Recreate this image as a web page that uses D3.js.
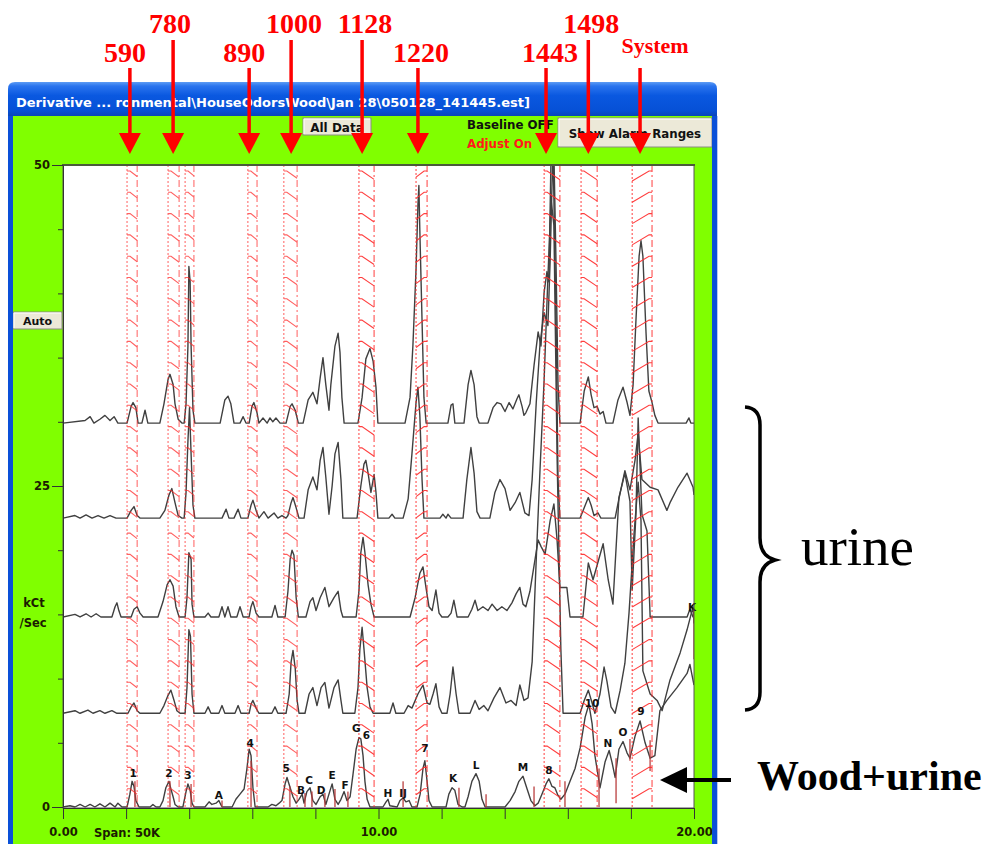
<!DOCTYPE html>
<html><head><meta charset="utf-8">
<script src="https://cdn.jsdelivr.net/npm/d3@7"></script>
<style>body{margin:0;background:#fff}svg{display:block}</style>
</head><body><svg id="c" width="989" height="844"></svg>
<script>
// ---------------- DATA ----------------
const traceOffsets = [29.9, 22.5, 14.8, 7.3, 0];

const trace1 = [[0,0],[0.70,0.2],[0.86,0.5],[0.98,0],[1.17,0.3],[1.33,0.6],[1.49,0.2],[1.62,0.5],[1.74,0],
[2.03,0],[2.16,1.3],[2.22,1.6],[2.31,1.2],[2.38,0],[2.50,0],[2.60,1.0],[2.69,0],
[3.07,0],[3.20,1.5],[3.33,3.4],[3.39,3.8],[3.49,3.0],[3.55,1.5],[3.65,0.3],[3.77,0],
[3.84,0],[3.90,1.5],[3.96,6],[3.99,12.2],[4.03,11],[4.06,6],[4.12,1],[4.18,0],
[4.98,0],[5.13,1.8],[5.23,2.1],[5.32,1.5],[5.42,0],[5.61,0],[5.71,0.5],[5.80,0],
[5.90,0],[5.99,1.3],[6.05,1.6],[6.15,0.8],[6.21,0],[6.34,0.4],[6.47,0],[6.56,0.4],[6.65,0.1],[6.75,0.4],[6.88,0],
[7.07,0],[7.20,1.3],[7.26,1.5],[7.36,1.0],[7.46,0],
[7.61,0],[7.77,1.8],[7.92,2.4],[8.05,1.5],[8.15,3.5],[8.24,5.1],[8.33,3.0],[8.43,1.0],[8.49,3.0],[8.62,6.0],[8.72,7.0],[8.78,5.5],[8.84,2],[8.91,0],
[9.35,0],[9.48,2.0],[9.60,5.0],[9.73,5.8],[9.83,4.8],[9.92,2.8],[9.98,0],
[10.84,0],[11.00,2.0],[11.09,6],[11.19,12],[11.25,17],[11.28,18.5],[11.31,15],[11.38,8],[11.44,2],[11.51,0],
[12.20,0],[12.30,1.4],[12.36,1.5],[12.42,0],[12.71,0],[12.84,3.0],[12.93,4.1],[13.03,3.0],[13.12,0.5],[13.19,0],
[13.47,0],[13.63,1.2],[13.76,1.6],[13.88,1.5],[14.01,0.9],[14.14,1.6],[14.26,1.1],[14.39,1.9],[14.45,2.2],[14.55,1.3],[14.61,0.6],[14.67,0.8],
[14.80,1.5],[14.93,4.5],[15.06,7.1],[15.15,6.0],[15.25,10.2],[15.34,11.8],[15.40,11.0],[15.47,21],[15.56,21],[15.63,12],[15.69,3],[15.75,0],
[16.39,0],[16.52,2.5],[16.65,3.6],[16.74,2.2],[16.83,1.2],[16.93,1.3],[17.02,0.7],[17.12,0.9],[17.21,0],
[17.43,0],[17.59,1.8],[17.75,2.8],[17.88,1.6],[17.97,0.6],
[18.07,3],[18.16,8],[18.26,13],[18.32,14.2],[18.38,13],[18.48,7],[18.57,2.5],[18.67,1.6],[18.76,0.6],[18.86,0],
[19.75,0],[19.84,0.4],[19.90,0],[20,0]];

const trace2 = [[0,0],[0.38,0.2],[0.54,0],[0.73,0.25],[0.92,0],[1.11,0.2],[1.30,0],[1.49,0.2],[1.68,0],
[2.03,0],[2.16,0.6],[2.25,0.9],[2.35,0.2],[2.44,0],
[3.07,0],[3.23,0.6],[3.36,1.8],[3.45,2.3],[3.55,1.2],[3.65,0.2],[3.77,0],
[3.84,0],[3.90,2],[3.96,6],[4.01,8.6],[4.06,5],[4.12,1],[4.18,0],
[5.04,0],[5.17,0.7],[5.26,0],[5.42,0],[5.55,0.7],[5.64,0],
[5.86,0],[5.96,1.0],[6.02,1.4],[6.12,0.6],[6.21,0],[6.37,0.5],[6.50,0],[6.69,0.4],[6.81,0],[6.94,0.2],[7.07,0],
[7.13,0.2],[7.23,1.2],[7.29,1.6],[7.39,0.8],[7.48,0],
[7.64,0],[7.77,2.2],[7.92,3.2],[8.05,2.2],[8.15,4.5],[8.24,5.5],[8.33,3.2],[8.43,0.3],[8.53,2.5],[8.62,5.0],[8.72,5.9],[8.81,3],[8.87,0],
[9.32,0],[9.44,2.5],[9.54,4.2],[9.60,4.5],[9.67,3.5],[9.76,2.0],[9.86,3.4],[9.92,2.0],[9.98,0],
[10.33,0],[10.43,0.3],[10.52,0],
[10.78,0],[10.94,1.5],[11.06,5],[11.19,9],[11.25,10.2],[11.31,8],[11.38,3],[11.44,0],
[11.95,0],[12.04,0.3],[12.14,0],[12.20,0.3],[12.30,0],
[12.68,0],[12.80,3.0],[12.93,5.5],[13.03,3.5],[13.12,0.5],[13.22,0],
[13.53,0],[13.69,2.0],[13.85,3.0],[14.01,2.3],[14.17,0.6],[14.33,1.2],[14.48,2.0],[14.64,0.4],[14.77,0.2],
[14.87,3],[15.00,9],[15.12,13.6],[15.25,16],[15.37,15],[15.44,20],[15.53,29],[15.63,15],[15.69,3],[15.75,0],
[16.39,0],[16.52,0.8],[16.65,1.6],[16.74,1.0],[16.83,0.2],[16.96,0.4],[17.05,0],
[17.50,0],[17.62,1.5],[17.81,3.7],[17.97,2.2],[18.13,4.5],[18.23,6.6],[18.35,3.0],[18.61,2.4],[18.86,2.2],[19.14,0.6],[19.24,1.2],[19.49,2.4],[19.78,3.5],[19.97,2.4],[20,1.8]];

const trace3 = [[0,0],[0.38,0.2],[0.54,0],[0.73,0.25],[0.89,0],[1.05,0.25],[1.20,0],
[1.55,0],[1.65,0.8],[1.71,1.1],[1.77,0.5],[1.84,0],[2.16,0],[2.25,0.6],[2.35,0.8],[2.44,0.3],[2.54,0],
[3.01,0],[3.17,1.2],[3.30,2.5],[3.39,2.9],[3.49,2.4],[3.58,0.8],[3.68,0],
[3.87,0],[3.93,1.5],[3.99,5.0],[4.06,4.5],[4.09,1],[4.15,0],
[4.50,0],[4.60,0.3],[4.69,0],[4.94,0],[5.04,0.8],[5.13,0],[5.23,0.8],[5.32,0],[5.51,0],[5.61,0.8],[5.71,0],
[5.90,0],[5.96,0.8],[6.02,1.2],[6.12,0.3],[6.21,0],[6.62,0],[6.72,0.9],[6.81,0],
[7.04,0],[7.13,2.0],[7.20,4.5],[7.26,5.2],[7.32,4.8],[7.39,1.5],[7.46,0],
[7.70,0],[7.83,1.2],[7.92,1.5],[8.02,0.5],[8.15,1.5],[8.30,2.3],[8.43,0.8],[8.59,1.5],[8.72,2.0],[8.81,0.5],[8.87,0],
[9.29,0],[9.38,2],[9.44,5],[9.51,6.2],[9.57,5],[9.67,2.5],[9.76,1],[9.86,0],
[11.00,0],[11.16,1.5],[11.31,3.4],[11.41,3.9],[11.51,2.2],[11.60,0.8],[11.70,0.5],[11.82,2.1],[11.92,0.3],[12.01,0],
[12.20,0],[12.30,0.3],[12.39,1.3],[12.49,0],
[12.84,0],[12.96,0.6],[13.06,1.3],[13.15,0.5],[13.31,0.8],[13.47,0.5],[13.60,1.0],[13.76,0.5],[13.91,0.8],[14.07,0.5],[14.23,1.1],[14.36,1.8],[14.48,2.3],[14.58,1.0],[14.67,0.8],
[14.80,2.0],[14.93,4.0],[15.06,6.0],[15.15,5.5],[15.28,4.9],[15.44,7.5],[15.56,8.8],[15.66,6],[15.75,2.3],[15.97,2.3],[16.07,0],
[16.48,0],[16.65,4.2],[16.80,2.9],[17.12,5.7],[17.28,2.9],[17.43,1.0],[17.62,9.3],[17.81,11.2],[17.97,9],[18.04,2.1],[18.16,8],[18.23,15.5],[18.35,8],[18.51,6.7],[18.61,0],
[19.78,0],[19.87,0.6],[19.97,0],[20,0]];

const trace4 = [[0,0],[0.38,0.2],[0.54,0],[0.79,0.25],[0.95,0],[1.17,0.2],[1.33,0],[1.55,0.2],[1.71,0],
[2.06,0],[2.16,0.5],[2.25,0.8],[2.35,0.2],[2.44,0],
[3.07,0],[3.20,0.6],[3.33,1.4],[3.42,1.8],[3.52,1.0],[3.61,0.2],[3.71,0],
[3.87,0],[3.93,2],[3.99,6.5],[4.04,6.0],[4.09,1.5],[4.15,0],
[4.50,0],[4.60,0.5],[4.69,0],[4.94,0],[5.04,0.6],[5.13,0],[5.45,0],[5.55,0.6],[5.64,0],
[5.90,0],[5.96,0.7],[6.02,1.0],[6.12,0.4],[6.21,0],[6.62,0],[6.72,0.5],[6.81,0],
[7.07,0],[7.17,1.5],[7.23,4.0],[7.29,4.9],[7.36,3.5],[7.42,1.0],[7.48,0],
[7.67,0],[7.80,1.5],[7.92,2.0],[8.05,0.6],[8.18,2.0],[8.30,2.4],[8.43,0.4],[8.59,2.0],[8.72,2.6],[8.81,1.0],[8.87,0],
[9.25,0],[9.35,2],[9.41,5],[9.48,6.7],[9.54,5],[9.64,2],[9.73,0.5],[9.83,0],
[10.36,0],[10.46,0.8],[10.55,0],[10.81,0],[10.94,0.6],[11.06,0.4],[11.25,1.5],[11.41,2.2],[11.54,0.8],[11.63,0.7],[11.73,1.5],[11.82,2.3],[11.92,0.5],[12.01,0],
[12.17,0],[12.27,1.5],[12.36,3.6],[12.46,1.5],[12.55,0],
[12.90,0],[13.06,1.0],[13.19,0.3],[13.34,0.6],[13.47,0.2],[13.66,1.2],[13.85,2.0],[14.04,0.8],[14.20,1.0],[14.36,0.6],[14.48,2.2],[14.61,1.0],[14.74,1.2],
[14.87,4],[15.00,12],[15.12,19],[15.25,26],[15.37,34],[15.47,40],[15.56,38],[15.66,20],[15.78,5],[15.85,0],
[16.39,0],[16.52,1.0],[16.65,1.8],[16.77,0.8],[16.86,0],[17.02,1.5],[17.15,3.6],[17.24,2.5],[17.37,0.5],[17.50,0],
[17.66,1.8],[17.81,3.9],[17.94,7.8],[18.10,14],[18.23,18],[18.32,15],[18.38,3.3],[18.61,1.5],[18.83,1.0],[18.99,0.2],[19.24,2.6],[19.56,4.7],[19.78,6.5],[19.97,8.3],[20,7.0]];

const trace5 = [[0,0],[0.22,0.1],[0.38,0],[0.54,0.2],[0.70,0],[0.86,0.2],[1.01,0],[1.17,0.25],[1.33,0],[1.49,0.3],[1.65,0],[1.74,0.3],[1.87,0],
[2.03,0],[2.12,1.0],[2.19,2.0],[2.25,1.6],[2.31,0.5],[2.41,0],[2.76,0],[2.85,0.2],[2.95,0],
[3.07,0],[3.17,0.5],[3.26,1.5],[3.36,2.0],[3.42,1.4],[3.49,0.8],[3.55,0.2],[3.65,0],
[3.80,0],[3.90,1.2],[3.96,1.8],[4.03,1.3],[4.09,0.3],[4.15,0],
[4.50,0],[4.63,0.4],[4.72,0.2],[4.85,0.3],[4.94,0.5],[5.04,0],
[5.36,0],[5.48,0.6],[5.61,1.0],[5.74,1.4],[5.83,3.0],[5.90,4.5],[5.96,4.0],[6.02,1.5],[6.09,0],
[6.50,0],[6.62,0.2],[6.75,0.1],[6.85,0.3],[6.94,0.5],[7.04,1.8],[7.10,2.3],[7.20,1.5],[7.29,0.8],[7.39,0.3],
[7.48,0.6],[7.58,1.0],[7.64,0.3],[7.73,1.2],[7.83,1.5],[7.92,0.5],[8.02,0.2],[8.15,0.8],[8.24,1.0],[8.33,0.2],[8.43,1.0],[8.53,1.8],[8.62,0.6],[8.72,0.2],[8.81,0.6],[8.91,1.2],[9.00,0.5],
[9.10,0.8],[9.19,2.5],[9.29,4.5],[9.38,5.4],[9.44,5.3],[9.51,4],[9.57,2],[9.64,0.6],[9.73,0],
[10.14,0],[10.24,0.4],[10.30,0.6],[10.36,0.1],[10.59,0],[10.68,0.5],[10.78,0.7],[10.87,0.4],[10.97,0.5],[11.06,0],
[11.22,0],[11.32,1.0],[11.41,3.0],[11.47,3.6],[11.54,2.0],[11.60,0.5],[11.70,0],
[12.14,0],[12.23,1.0],[12.33,1.5],[12.42,1.3],[12.52,0.2],[12.65,0],
[12.74,0],[12.84,0.8],[12.96,2.0],[13.09,2.6],[13.19,2.0],[13.28,0.6],[13.38,0],
[14.01,0],[14.17,0.5],[14.33,1.2],[14.45,2.0],[14.58,2.4],[14.71,1.4],[14.83,0.5],[14.96,0.1],
[15.06,0.3],[15.18,1.0],[15.31,1.8],[15.40,2.2],[15.50,1.6],[15.59,1.5],[15.69,0.9],[15.78,0.6],
[15.91,1.0],[16.07,2.0],[16.23,3.0],[16.39,4.6],[16.55,7.0],[16.67,8.0],[16.77,6.5],[16.86,4.0],[17.02,1.5],
[17.18,3.5],[17.31,4.4],[17.40,3.5],[17.50,2.3],[17.62,4.5],[17.75,5.1],[17.88,4.2],[17.97,3.8],[18.13,5.5],[18.29,6.7],[18.45,5.0],[18.61,3.8],[18.76,4.0],[18.92,7.5],[19.14,8.3],[19.46,9.3],[19.78,10.4],[19.87,11.1],[20,9.5]];

const alarmBands = [[2.03,2.35],[3.33,3.68],[3.87,4.15],[5.86,6.15],[7.00,7.42],[9.38,9.86],[11.19,11.54],[15.25,15.75],[16.42,16.93],[18.04,18.67]];

const calloutNames = ["590","780","890","1000","1128","1220","1443","1498","System"];
const calloutTimes = [2.12, 3.49, 5.90, 7.23, 9.48, 11.25, 15.31, 16.65, 18.29];

const peakNames  = ["1","2","3","A","4","5","B","C","D","E","F","G","6","H","IJ","7","K","L","M","8","10","N","O","9","K"];
const peakTimes  = [2.22,3.36,3.96,4.94,5.93,7.07,7.54,7.80,8.18,8.53,8.94,9.30,9.62,10.30,10.78,11.47,12.36,13.09,14.58,15.40,16.77,17.27,17.75,18.32,19.94];
const peakValues = [2.65,2.65,2.5,0.93,5.0,3.0,1.3,2.1,1.3,2.5,1.7,6.15,5.6,1.1,1.1,4.6,2.25,3.3,3.1,2.9,8.1,5.0,5.85,7.5,15.6];

const markerTimes = [2.28,3.39,4.06,5.04,5.96,7.19,7.67,7.89,8.30,8.62,9.03,10.78,12.55,13.41,14.93,15.91,16.99,17.53,17.97,18.61,20.0];
const markerLows  = [0,0,0,0,0,0,0,0,0,0,0,0,0,0,0,0,0,0.3,3.6,2.8,11.5];
const markerHighs = [2.0,2.0,1.8,0.5,3.6,1.6,1.1,1.2,1.1,1.4,1.2,2.0,1.5,1.0,1.6,2.0,3.0,3.8,5.3,5.2,15.5];

const xTickValues = [0,2,4,6,8,10,12,14,16,18,20];
const xTickLabels = ["0.00","","","","","10.00","","","","","20.00"];
const yTickValues = [0,5,10,15,20,25,30,35,40,45,50];
const yTickLabels = ["0","","","","","25","","","","","50"];

// ---------------- STYLE ----------------
const bandSlope = [-1,-1,-1,-1,-1,-1,1,-1,-1,1];
const calloutDx = [-5,-3,-5,3,3,3,4,3,15];
const calloutRow = [1,0,1,0,0,1,1,0,2];
const GREEN = "#80ff00";
const FONT = "'DejaVu Sans', Verdana, sans-serif";
const SERIF = "'Liberation Serif', 'Times New Roman', serif";

const svg = d3.select("#c");
const defs = svg.append("defs");
const grad = defs.append("linearGradient").attr("id","tb").attr("x1",0).attr("x2",0).attr("y1",0).attr("y2",1);
[["0%","#5d9cf4"],["12%","#2a74ee"],["40%","#0a58e0"],["85%","#0650d6"],["100%","#0a46b8"]].forEach(s=>grad.append("stop").attr("offset",s[0]).attr("stop-color",s[1]));

const x = d3.scaleLinear().domain([0,20]).range([63,694]);
const y = d3.scaleLinear().domain([0,50]).range([807,165]);

defs.append("clipPath").attr("id","plotclip").append("rect")
  .attr("x",x(0)).attr("y",y(50)).attr("width",x(20)-x(0)).attr("height",808-y(50));

// window
svg.append("path").attr("d","M8,116 L8,89 Q8,82 15,82 L710,82 Q717,82 717,89 L717,116 Z").attr("fill","url(#tb)");
svg.append("rect").attr("x",13).attr("y",116).attr("width",699).attr("height",728).attr("fill",GREEN);

svg.append("text").attr("x",16).attr("y",107).attr("fill","#fff")
  .attr("font-family",FONT).attr("font-weight","bold").attr("font-size",12)
  .attr("textLength",514).attr("lengthAdjust","spacingAndGlyphs")
  .text("Derivative ... ronmental\\HouseOdorsWood\\Jan 28\\050128_141445.est]");

// plot area
svg.append("rect").attr("x",x(0)).attr("y",y(50)).attr("width",x(20)-x(0)).attr("height",808-y(50))
  .attr("fill","#fff");

const plot = svg.append("g").attr("clip-path","url(#plotclip)");
const line = d3.line().x(d=>x(d[0])).y(d=>y(d[1]));
[trace1,trace2,trace3,trace4,trace5].forEach((tr,i)=>{
  plot.append("path").datum(tr.map(d=>[d[0], d[1]+traceOffsets[i]]))
    .attr("d",line).attr("fill","none").attr("stroke","#404040").attr("stroke-width",1.4)
    .attr("stroke-linejoin","round");
});

// alarm markers
markerTimes.forEach((t,i)=>{
  plot.append("line").attr("x1",x(t)).attr("x2",x(t)).attr("y1",y(markerLows[i])).attr("y2",y(markerHighs[i]))
    .attr("stroke","#b83a3a").attr("stroke-width",1.8).attr("opacity",0.7);
});

// alarm bands with hatch
const bandG = svg.append("g").attr("clip-path","url(#plotclip)");
alarmBands.forEach((b,i)=>{
  const x0 = x(b[0]), x1 = x(b[1]);
  const g = bandG.append("g").attr("stroke","#ff2a2a").attr("fill","none").attr("opacity", i<5 ? 0.75 : 0.9);
  g.append("line").attr("x1",x0).attr("x2",x0).attr("y1",y(50)).attr("y2",808).attr("stroke-dasharray","2,2");
  g.append("line").attr("x1",x1).attr("x2",x1).attr("y1",y(50)).attr("y2",808).attr("stroke-dasharray","7,3,2,3");
  const w = x1 - x0;
  const rise = Math.min(10, w*0.55);
  for (let yy = y(50)+6; yy < 812; yy += 21.3) {
    let d;
    if (bandSlope[i] < 0) d = `M${x0},${yy} L${x0+3},${yy} L${x1},${yy+rise}`;
    else d = `M${x0},${yy+rise} L${x1-3},${yy} L${x1},${yy}`;
    g.append("path").attr("d",d).attr("stroke-width",1.1);
  }
});

// peak labels
svg.append("g").selectAll("text").data(peakNames).join("text")
  .attr("x",(d,i)=>x(peakTimes[i])).attr("y",(d,i)=>y(peakValues[i]))
  .attr("text-anchor","middle").attr("dominant-baseline","central")
  .attr("font-family",FONT).attr("font-weight","bold").attr("font-size",10.5).attr("fill","#111")
  .text(d=>d);

// frame
svg.append("rect").attr("x",x(0)).attr("y",y(50)).attr("width",x(20)-x(0)).attr("height",808-y(50))
  .attr("fill","none").attr("stroke","#555").attr("stroke-width",1);
svg.append("line").attr("x1",x(0)-1).attr("x2",x(20)+1).attr("y1",y(50)).attr("y2",y(50)).attr("stroke","#4a5a3a").attr("stroke-width",2);

// axes
const yAxis = d3.axisLeft(y).tickValues(yTickValues).tickFormat((d,i)=>yTickLabels[i]).tickSize(5).tickSizeOuter(0).tickPadding(8);
const ya = svg.append("g").attr("transform",`translate(${x(0)},0)`).call(yAxis);
ya.selectAll(".tick line").attr("stroke","#333").attr("x2",(d)=> (d%25===0)? -11 : -5);
ya.selectAll(".tick text").attr("x",-13).attr("font-family",FONT).attr("font-weight","bold").attr("font-size",11.5).attr("fill","#1c1c00");
ya.select(".domain").attr("stroke","#333");

const xAxis = d3.axisBottom(x).tickValues(xTickValues).tickFormat((d,i)=>xTickLabels[i]).tickSize(11).tickSizeOuter(0).tickPadding(9);
const xa = svg.append("g").attr("transform","translate(0,808)").call(xAxis);
xa.selectAll(".tick line").attr("stroke","#333");
xa.selectAll(".tick text").attr("font-family",FONT).attr("font-weight","bold").attr("font-size",11.5).attr("fill","#1c1c00");
xa.select(".domain").attr("stroke","#333");

svg.append("text").attr("x",94).attr("y",837).attr("font-family",FONT).attr("font-weight","bold").attr("font-size",11.5).attr("fill","#1c1c00").text("Span: 50K");
svg.append("text").attr("x",34).attr("y",607).attr("text-anchor","middle").attr("font-family",FONT).attr("font-weight","bold").attr("font-size",11.5).attr("fill","#1c1c00").text("kCt");
svg.append("text").attr("x",33).attr("y",627).attr("text-anchor","middle").attr("font-family",FONT).attr("font-weight","bold").attr("font-size",11.5).attr("fill","#1c1c00").text("/Sec");

// buttons
function button(x0,y0,w,h,label,fs){
  const g = svg.append("g");
  g.append("rect").attr("x",x0).attr("y",y0).attr("width",w).attr("height",h).attr("fill","#ece9d8").attr("stroke","#8c8c84");
  g.append("path").attr("d",`M${x0+1},${y0+h-1} L${x0+1},${y0+1} L${x0+w-1},${y0+1}`).attr("stroke","#fff").attr("fill","none");
  g.append("text").attr("x",x0+w/2).attr("y",y0+h/2+1).attr("text-anchor","middle").attr("dominant-baseline","central")
    .attr("font-family",FONT).attr("font-weight","bold").attr("font-size",fs).attr("fill","#111").text(label);
}
button(13,312,49,17,"Auto",11);
button(303,118,68,17,"All Data",12);
button(558,118,154,29,"Show Alarm Ranges",11.8);

svg.append("text").attr("x",467).attr("y",129).attr("font-family",FONT).attr("font-weight","bold").attr("font-size",11.8).attr("fill","#111").text("Baseline OFF");
svg.append("text").attr("x",467).attr("y",148).attr("font-family",FONT).attr("font-weight","bold").attr("font-size",11.8).attr("fill","#ff1a1a").text("Adjust On");

// window side borders
svg.append("rect").attr("x",8).attr("y",116).attr("width",5).attr("height",728).attr("fill","#0a50d8");
svg.append("rect").attr("x",712).attr("y",116).attr("width",5).attr("height",728).attr("fill","#0a50d8");
svg.append("rect").attr("x",717).attr("y",116).attr("width",1).attr("height",728).attr("fill","#b8c8f0");

// red callouts
const rowY = [33, 62, 53];
const lineTop = [40, 68, 68];
calloutNames.forEach((n,i)=>{
  const ax = x(calloutTimes[i]);
  const r = calloutRow[i];
  svg.append("text").attr("x",ax+calloutDx[i]).attr("y",rowY[r]).attr("text-anchor","middle")
    .attr("font-family",SERIF).attr("font-weight","bold").attr("font-size", r===2 ? 22 : 28).attr("fill","#ff0000").text(n);
  svg.append("line").attr("x1",ax).attr("x2",ax).attr("y1",lineTop[r]).attr("y2",136).attr("stroke","#ff0000").attr("stroke-width",3.5);
  svg.append("path").attr("d",`M${ax-11},133 L${ax+11},133 L${ax},154 Z`).attr("fill","#ff0000");
});

// right annotations
svg.append("path").attr("d","M745,407 Q760,408 760,425 L760,538 Q760,556 775,560 Q760,564 760,582 L760,692 Q760,709 745,710")
  .attr("fill","none").attr("stroke","#000").attr("stroke-width",3.5);
svg.append("text").attr("x",801).attr("y",565).attr("font-family",SERIF).attr("font-size",55).attr("fill","#000").text("urine");
svg.append("line").attr("x1",684).attr("x2",731).attr("y1",780).attr("y2",780).attr("stroke","#000").attr("stroke-width",4);
svg.append("path").attr("d","M660,780 L687,767 L687,793 Z").attr("fill","#000");
svg.append("text").attr("x",757).attr("y",790).attr("font-family",SERIF).attr("font-weight","bold").attr("font-size",42).attr("fill","#000").text("Wood+urine");
</script></body></html>
